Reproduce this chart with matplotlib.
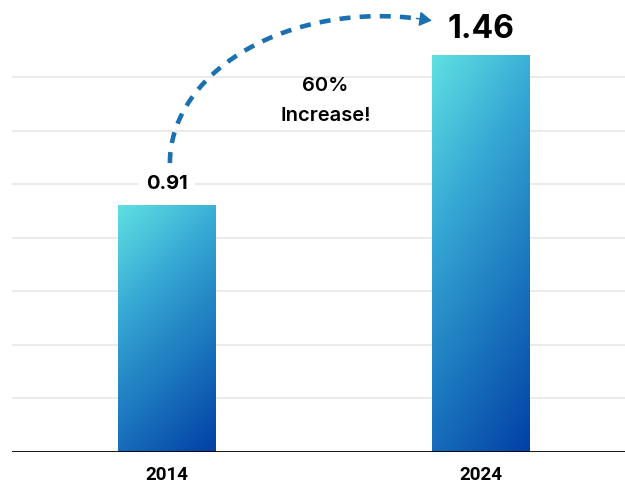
import matplotlib
matplotlib.use("Agg")
import matplotlib.pyplot as plt
import numpy as np
from matplotlib.colors import LinearSegmentedColormap

years = ["2014", "2024"]
values = [0.91, 1.46]
value_labels = ["0.91", "1.46"]
note = "60%\nIncrease!"
grid_step = 0.197

blue = "#1a70b0"
cmap = LinearSegmentedColormap.from_list(
    "bar", ["#5fe0e2", "#36a8d4", "#1a74bd", "#0240a6"])

fig = plt.figure(figsize=(6.25, 4.84), dpi=100)
ax = fig.add_axes([12 / 625, 32 / 484, 613 / 625, 452 / 484])
x = np.arange(len(years))
width = 0.312
ax.set_xlim(-0.494, 1.459)
ax.set_ylim(0, 1.662)

bars = ax.bar(x, values, width, color="none", zorder=2)
for b in bars:
    x0, y0 = b.get_x(), b.get_y()
    w, h = b.get_width(), b.get_height()
    xx, yy = np.meshgrid(np.linspace(0, 1, 60), np.linspace(0, 1, 200))
    t = 0.72 * (1 - yy) + 0.28 * xx
    im = ax.imshow(t, cmap=cmap, origin="lower", extent=[x0, x0 + w, y0, y0 + h],
                   aspect="auto", vmin=0, vmax=1, zorder=2)
    im.set_clip_path(b)

# grid
for i in range(1, 8):
    ax.axhline(i * grid_step, color="#ebebeb", lw=1.5, zorder=0)
ax.axhline(0, color="black", lw=2, zorder=3)

for sp in ax.spines.values():
    sp.set_visible(False)
ax.set_yticks([])
ax.set_xticks(x)
ax.set_xticklabels(years, fontfamily="Roboto", fontweight="bold", fontsize=13.5)
ax.tick_params(axis="x", length=0, pad=10)

# value labels
ax.text(x[0], values[0] + 0.075, value_labels[0], ha="center", va="center",
        fontfamily="Inter", fontweight="bold", fontsize=14.5, zorder=4,
        bbox=dict(facecolor="white", edgecolor="none", pad=5))
ax.text(x[1], values[1] + 0.095, value_labels[1], ha="center", va="center",
        fontfamily="Inter", fontweight="bold", fontsize=23, zorder=4)
ax.text(0.505, 1.29, note, ha="center", va="center", fontfamily="Inter",
        fontweight="semibold", fontsize=14.5, linespacing=1.85, zorder=4)

# dashed arc arrow: elliptical arc from above bar 1 to the 1.46 label
cx, cy, a, b_ = 0.678, 1.0625, 0.669, 0.540
th = np.radians(np.linspace(180, 80, 200))
ax.plot(cx + a * np.cos(th), cy + b_ * np.sin(th), color=blue, lw=3.3,
        linestyle=(0, (2.4, 2.0)), solid_capstyle="butt", zorder=4)
te = np.radians(80)
tail = (cx + a * np.cos(te), cy + b_ * np.sin(te))
tip = (tail[0] + 0.05 * np.sin(te), tail[1] - 0.05 * b_ / a * np.cos(te) * 1.15)
ax.annotate("", xy=tip, xytext=tail,
            arrowprops=dict(arrowstyle="-|>,head_length=0.75,head_width=0.45",
                            color=blue, lw=1, shrinkA=0, shrinkB=0), zorder=4)

fig.savefig("out.png", dpi=100)
